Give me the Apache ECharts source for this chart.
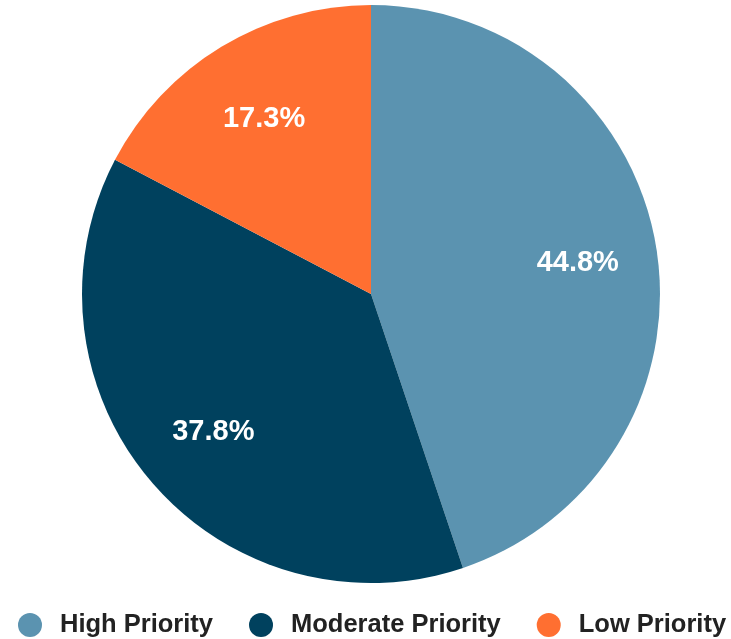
<!DOCTYPE html>
<html>
<head>
<meta charset="utf-8">
<script src="https://cdn.jsdelivr.net/npm/echarts@6/dist/echarts.min.js"></script>
<style>html,body{margin:0;padding:0;background:#fff}#c{width:731px;height:639px}</style>
</head>
<body>
<div id="c"></div>
<script>
const categories = ['High Priority', 'Moderate Priority', 'Low Priority'];
const values = [44.8, 37.8, 17.3];
const colors = ['#5b93b0', '#00415e', '#ff6f31'];

const data = categories.map((n, i) => ({ name: n, value: values[i], itemStyle: { color: colors[i] } }));
const chart = echarts.init(document.getElementById('c'), null, { renderer: 'canvas' });
chart.setOption({
  animation: false,
  legend: {
    data: categories,
    left: 18,
    top: 612,
    padding: 0,
    icon: 'circle',
    itemWidth: 24,
    itemHeight: 24,
    itemGap: 36,
    textStyle: { fontFamily: 'Liberation Sans, Arial, sans-serif', fontWeight: 'bold', fontSize: 25.5, color: '#222', padding: [0, 0, 0, 13] }
  },
  series: [
    {
      type: 'pie',
      center: [371, 294],
      radius: [0, 289],
      startAngle: 90,
      clockwise: true,
      label: { show: false },
      labelLine: { show: false },
      emphasis: { disabled: true },
      data: data
    },
    {
      type: 'pie',
      center: [371, 294],
      radius: [122, 289],
      startAngle: 90,
      clockwise: true,
      silent: true,
      legendHoverLink: false,
      itemStyle: { color: 'rgba(0,0,0,0)' },
      label: {
        show: true,
        position: 'inside',
        formatter: p => p.value.toFixed(1) + '%',
        color: '#fff',
        fontFamily: 'Liberation Sans, Arial, sans-serif',
        fontWeight: 'bold',
        fontSize: 29,
        offset: [1, 3]
      },
      labelLine: { show: false },
      emphasis: { disabled: true },
      data: categories.map((n, i) => ({ name: n + ' ', value: values[i], itemStyle: { color: 'rgba(0,0,0,0)' } }))
    }
  ]
});
</script>
</body>
</html>
